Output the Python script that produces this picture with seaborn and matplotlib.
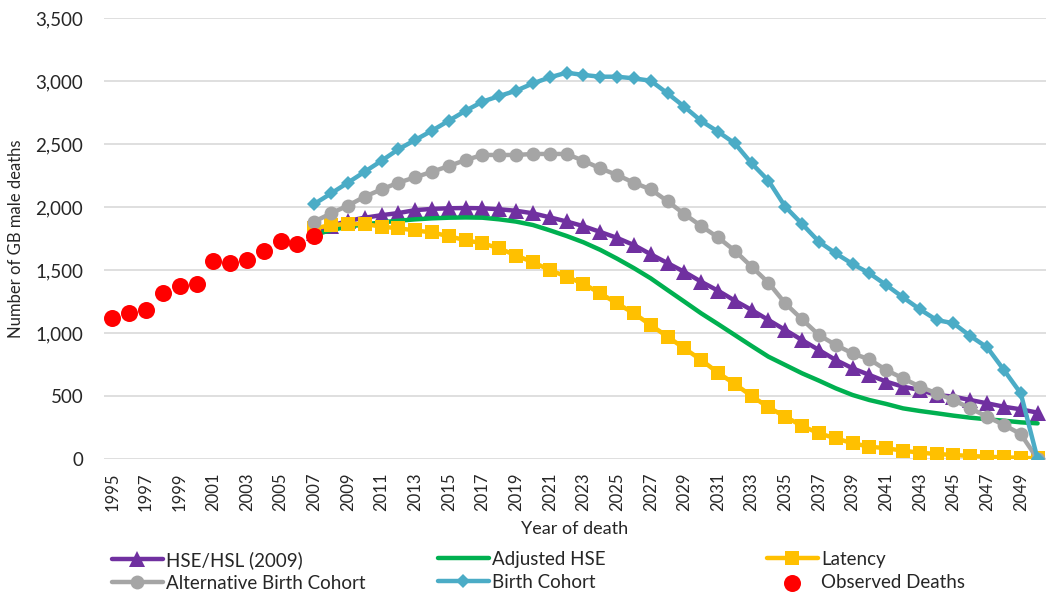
import numpy as np
import pandas as pd
import matplotlib
matplotlib.use("Agg")
import matplotlib.pyplot as plt
import seaborn as sns

# Data
observed_years = list(range(1995, 2008))
observed_deaths = [1120, 1155, 1182, 1315, 1376, 1391, 1574, 1558, 1579, 1652, 1732, 1704, 1772]

proj_years = list(range(2007, 2051))

hse_hsl_2009 = [1790, 1850, 1890, 1915, 1935, 1952, 1975, 1985, 1990, 1992,
                1990, 1982, 1970, 1950, 1918, 1885, 1848, 1802, 1755, 1698,
                1625, 1555, 1485, 1407, 1336, 1257, 1183, 1103, 1024, 944,
                865, 786, 720, 667, 614, 574, 548, 508, 495, 468,
                442, 415, 394, 368]

adjusted_hse = [1778, 1817, 1844, 1862, 1878, 1891, 1902, 1910, 1915, 1917,
                1915, 1902, 1884, 1857, 1815, 1770, 1720, 1660, 1590, 1515,
                1434, 1341, 1249, 1156, 1071, 984, 897, 812, 746, 680,
                622, 561, 508, 468, 437, 402, 381, 363, 344, 328,
                315, 304, 291, 283]

latency = [1830, 1857, 1865, 1865, 1844, 1831, 1814, 1798, 1768, 1736,
           1712, 1672, 1615, 1562, 1500, 1447, 1390, 1315, 1235, 1156,
           1063, 971, 878, 786, 685, 595, 500, 410, 336, 262,
           204, 164, 125, 98, 85, 66, 50, 40, 32, 24,
           18, 13, 10, 5]

alt_birth_cohort = [1884, 1950, 2011, 2082, 2140, 2193, 2236, 2280, 2325, 2373,
                    2413, 2413, 2413, 2421, 2421, 2421, 2367, 2307, 2254, 2193,
                    2140, 2046, 1944, 1849, 1759, 1653, 1526, 1399, 1235, 1108,
                    984, 905, 838, 791, 706, 640, 574, 521, 468, 402,
                    336, 270, 198, 0]

birth_cohort = [2024, 2108, 2193, 2280, 2367, 2458, 2532, 2606, 2685, 2764,
                2836, 2881, 2923, 2981, 3029, 3066, 3048, 3034, 3034, 3021,
                3002, 2902, 2796, 2683, 2598, 2505, 2346, 2209, 2002, 1865,
                1725, 1632, 1548, 1474, 1381, 1283, 1188, 1103, 1077, 976,
                886, 706, 521, 0]

PURPLE = "#7030A0"
GREEN = "#00B050"
YELLOW = "#FFC000"
GREY = "#A5A5A5"
BLUE = "#4BACC6"
RED = "#FF0000"

sns.set_theme(style="white")
plt.rcParams["font.family"] = ["Lato", "DejaVu Sans"]

proj_df = pd.DataFrame({
    "year": proj_years,
    "HSE/HSL (2009)": hse_hsl_2009,
    "Adjusted HSE": adjusted_hse,
    "Latency": latency,
    "Alternative Birth Cohort": alt_birth_cohort,
    "Birth Cohort": birth_cohort,
})
obs_df = pd.DataFrame({"year": observed_years, "deaths": observed_deaths})

W, H = 1047, 595
fig = plt.figure(figsize=(W / 100, H / 100), dpi=100)
ax = fig.add_axes([104 / W, 1 - 459 / H, 942 / W, 441 / H])

# Series drawn in the same order as the original (later ones on top)
styles = [
    ("HSE/HSL (2009)", PURPLE, "^", 11),
    ("Adjusted HSE", GREEN, None, 0),
    ("Latency", YELLOW, "s", 10),
    ("Alternative Birth Cohort", GREY, "o", 10),
    ("Birth Cohort", BLUE, "D", 7),
]
for i, (name, color, marker, msize) in enumerate(styles):
    sns.lineplot(data=proj_df, x="year", y=name, ax=ax, color=color, linewidth=3.2,
                 marker=marker, markersize=msize, markeredgewidth=0, zorder=2 + i,
                 label=name)

sns.scatterplot(data=obs_df, x="year", y="deaths", ax=ax, color=RED, s=150,
                linewidth=0, zorder=10, label="Observed Deaths")

ax.set_xlim(1994.5, 2050.5)
ax.set_ylim(0, 3500)
ax.set_xticks(list(range(1995, 2050, 2)))
ax.set_xticklabels([str(y) for y in range(1995, 2050, 2)], rotation=90, fontsize=12)
ax.set_yticks(list(range(0, 3501, 500)))
ax.set_yticklabels([f"{v:,}" for v in range(0, 3501, 500)], fontsize=13.5)
ax.yaxis.grid(True, color="#D9D9D9", linewidth=1.2)
ax.set_axisbelow(True)
for side in ["top", "right", "left", "bottom"]:
    ax.spines[side].set_visible(False)
ax.tick_params(axis="x", length=0, pad=10)
ax.tick_params(axis="y", length=0, pad=15)
ax.set_xlabel("Year of death", fontsize=13)
ax.set_ylabel("Number of GB male deaths", fontsize=12)
ax.xaxis.set_label_coords(0.5, -0.14)
ax.yaxis.set_label_coords(-0.085, 0.5)

h, l = ax.get_legend_handles_labels()
lookup = dict(zip(l, h))
ax.legend_.remove()

# Three fixed-width legend columns as in the original
columns = [
    (112, ["HSE/HSL (2009)", "Alternative Birth Cohort"]),
    (438, ["Adjusted HSE", "Birth Cohort"]),
    (767, ["Latency", "Observed Deaths"]),
]
for x_px, names in columns:
    fig.legend([lookup[k] for k in names], names, loc="upper left",
               bbox_to_anchor=(x_px / W, 1 - 551 / H), frameon=False,
               fontsize=13.5, handlelength=2.7, handletextpad=0.2,
               labelspacing=0.32, borderpad=0, borderaxespad=0)

fig.savefig("out.png", dpi=100)
